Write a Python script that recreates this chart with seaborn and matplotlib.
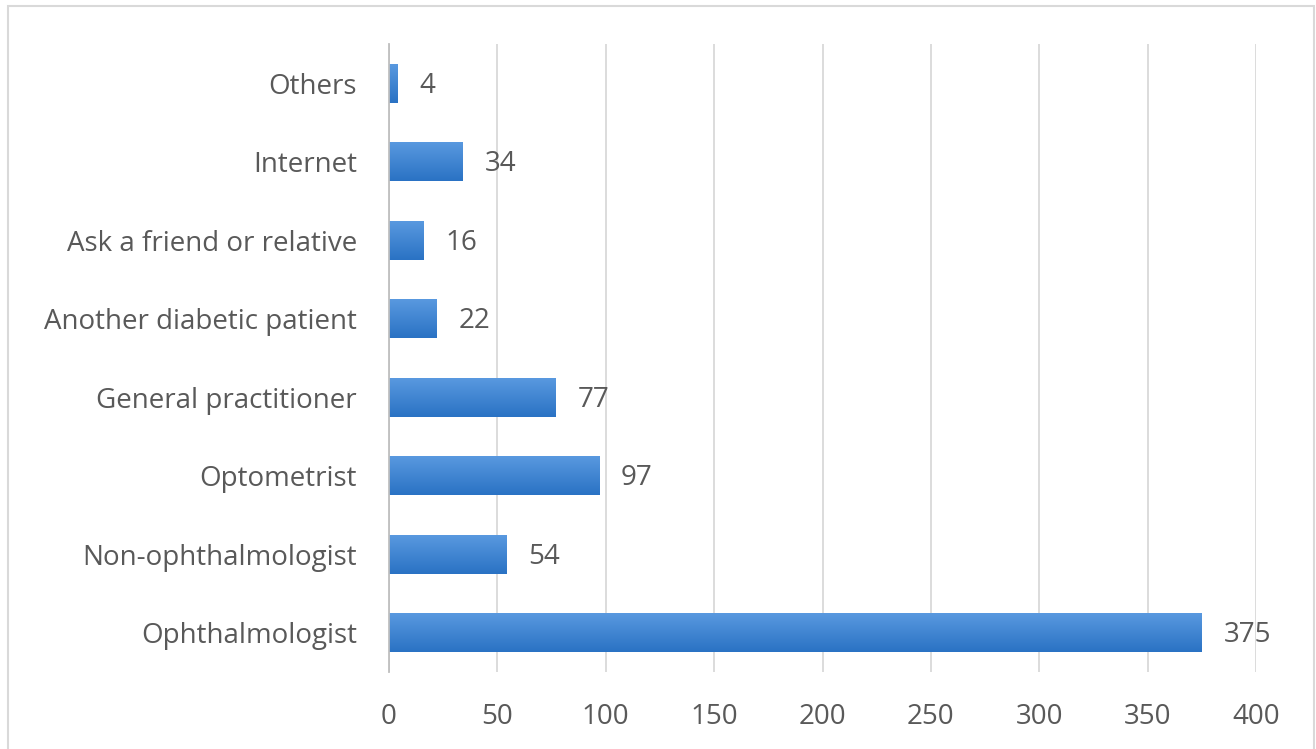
import numpy as np
import pandas as pd
import matplotlib
matplotlib.use("Agg")
import matplotlib.pyplot as plt
from matplotlib.patches import Rectangle
import seaborn as sns

categories = ["Others", "Internet", "Ask a friend or relative", "Another diabetic patient",
              "General practitioner", "Optometrist", "Non-ophthalmologist", "Ophthalmologist"]
counts = [4, 34, 16, 22, 77, 97, 54, 375]
x_ticks = [0, 50, 100, 150, 200, 250, 300, 350, 400]

df = pd.DataFrame({"source": categories, "count": counts})

sns.set_theme(style="white")
plt.rcParams["font.family"] = ["Open Sans", "DejaVu Sans"]
text_color = "#595959"
fs = 20

fig = plt.figure(figsize=(13.16, 7.49), dpi=100)
ax = fig.add_axes([389 / 1316, 1 - 672 / 749, (1256 - 389) / 1316, (672 - 44) / 749])

sns.barplot(data=df, x="count", y="source", orient="h", color="#3f85d0",
            width=0.5, ax=ax, saturation=1)

# vertical gradient fill for each bar
grad = np.linspace(0, 1, 64).reshape(-1, 1)
cmap = matplotlib.colors.LinearSegmentedColormap.from_list("bar", ["#5a9ae0", "#2a72c4"])
for p in ax.patches:
    x0, y0 = p.get_x(), p.get_y()
    w, h = p.get_width(), p.get_height()
    im = ax.imshow(grad, cmap=cmap, aspect="auto", extent=(x0, x0 + w, y0 + h, y0),
                   origin="upper", zorder=p.get_zorder() + 0.1)
    im.set_clip_path(p)
    p.set_edgecolor("none")

for p, v in zip(ax.patches, counts):
    ax.text(p.get_x() + p.get_width() + 10, p.get_y() + p.get_height() / 2 + 0.03, str(v),
            va="center", ha="left", fontsize=fs, color=text_color, zorder=5)

ax.set_xlim(0, 400)
ax.set_ylim(len(categories) - 0.5, -0.5)
ax.set_xticks(x_ticks)
ax.set_xticklabels([str(t) for t in x_ticks])
ax.xaxis.grid(True, color="#d9d9d9", linewidth=1.3)
ax.set_axisbelow(True)
for s in ["top", "right", "bottom"]:
    ax.spines[s].set_visible(False)
ax.spines["left"].set_color("#bfbfbf")
ax.spines["left"].set_linewidth(1.3)
ax.set_xlabel("")
ax.set_ylabel("")
ax.tick_params(axis="x", labelsize=fs, labelcolor=text_color, pad=22, length=0)
ax.tick_params(axis="y", labelsize=fs, labelcolor=text_color, pad=23, length=0)

# light frame around the chart area
fig.add_artist(Rectangle((8 / 1316, -0.01), 1306 / 1316, 1 - 6 / 749 + 0.01,
                         transform=fig.transFigure, fill=False,
                         edgecolor="#d9d9d9", linewidth=1.5))

fig.savefig("out.png", dpi=100, facecolor="white")
